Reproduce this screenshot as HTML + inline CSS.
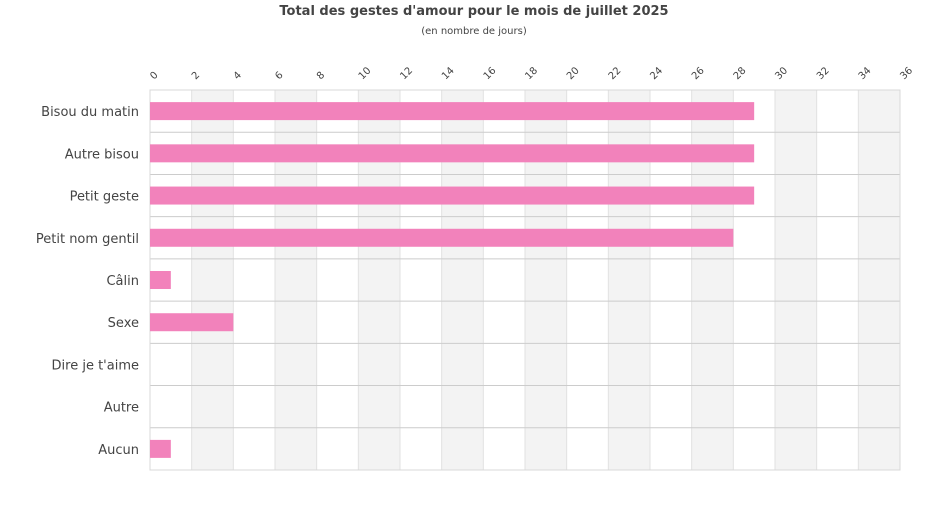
<!DOCTYPE html>
<html><head><meta charset="utf-8"><style>
body{margin:0;background:#fff;}
svg text{font-family:"DejaVu Sans","Liberation Sans",sans-serif;}
</style></head><body>
<svg width="950" height="500" id="chart">
<text x="474" y="15" text-anchor="middle" font-size="13" font-weight="bold" fill="#444">Total des gestes d'amour pour le mois de juillet 2025</text>
<text x="474" y="34" text-anchor="middle" font-size="10" fill="#444">(en nombre de jours)</text>
<g id="bands"></g><g id="grid"></g><g id="bars"></g><g id="labels"></g>
</svg>
<script>
const categories=["Bisou du matin","Autre bisou","Petit geste","Petit nom gentil","Câlin","Sexe","Dire je t'aime","Autre","Aucun"];
const values=[29,29,29,28,1,4,0,0,1];
const ticks=[0,2,4,6,8,10,12,14,16,18,20,22,24,26,28,30,32,34,36];
const L=150,R=900,T=90,B=470,maxV=36;
const x=v=>L+(v/maxV)*(R-L);
const bandH=(B-T)/categories.length;
const y=i=>T+i*bandH;
const NS="http://www.w3.org/2000/svg";
function mk(tag,parent,attrs){const e=document.createElementNS(NS,tag);for(const k in attrs)e.setAttribute(k,attrs[k]);document.getElementById(parent).appendChild(e);return e;}
for(let i=0;i<ticks.length-1;i++){
 if(i%2===1){const r=mk('rect','bands',{x:x(ticks[i]),y:T,width:x(ticks[i+1])-x(ticks[i]),height:B-T,fill:'#f3f3f3'});
 
 }
}
ticks.forEach(t=>{
 const l=mk('line','grid',{x1:x(t),x2:x(t),y1:T,y2:B,stroke:'#e2e2e2','stroke-width':1});
 
 
 const tx=mk('text','labels',{x:x(t)+4,y:80,'font-size':10,fill:'#444','text-anchor':'start',transform:`rotate(-45 ${x(t)+4} 80)`});
 tx.textContent=t;
 
 
});
for(let i=0;i<=categories.length;i++){
 const l=mk('line','grid',{x1:L,x2:R,y1:y(i),y2:y(i),stroke:'#cccccc','stroke-width':1});
 
 
}
const box=mk('rect','grid',{x:L,y:T,width:R-L,height:B-T,fill:'none',stroke:'#d8d8d8'});


categories.forEach((c,i)=>{
 const cy=y(i)+bandH/2;
 if(values[i]>0){const r=mk('rect','bars',{x:L,y:cy-9,width:x(values[i])-L,height:18,fill:'#f282bb'});
 
 }
 const t=mk('text','labels',{x:139,y:cy+5,'font-size':13,fill:'#444','text-anchor':'end'});
 t.textContent=c;
 
 
});
</script>
</body></html>
